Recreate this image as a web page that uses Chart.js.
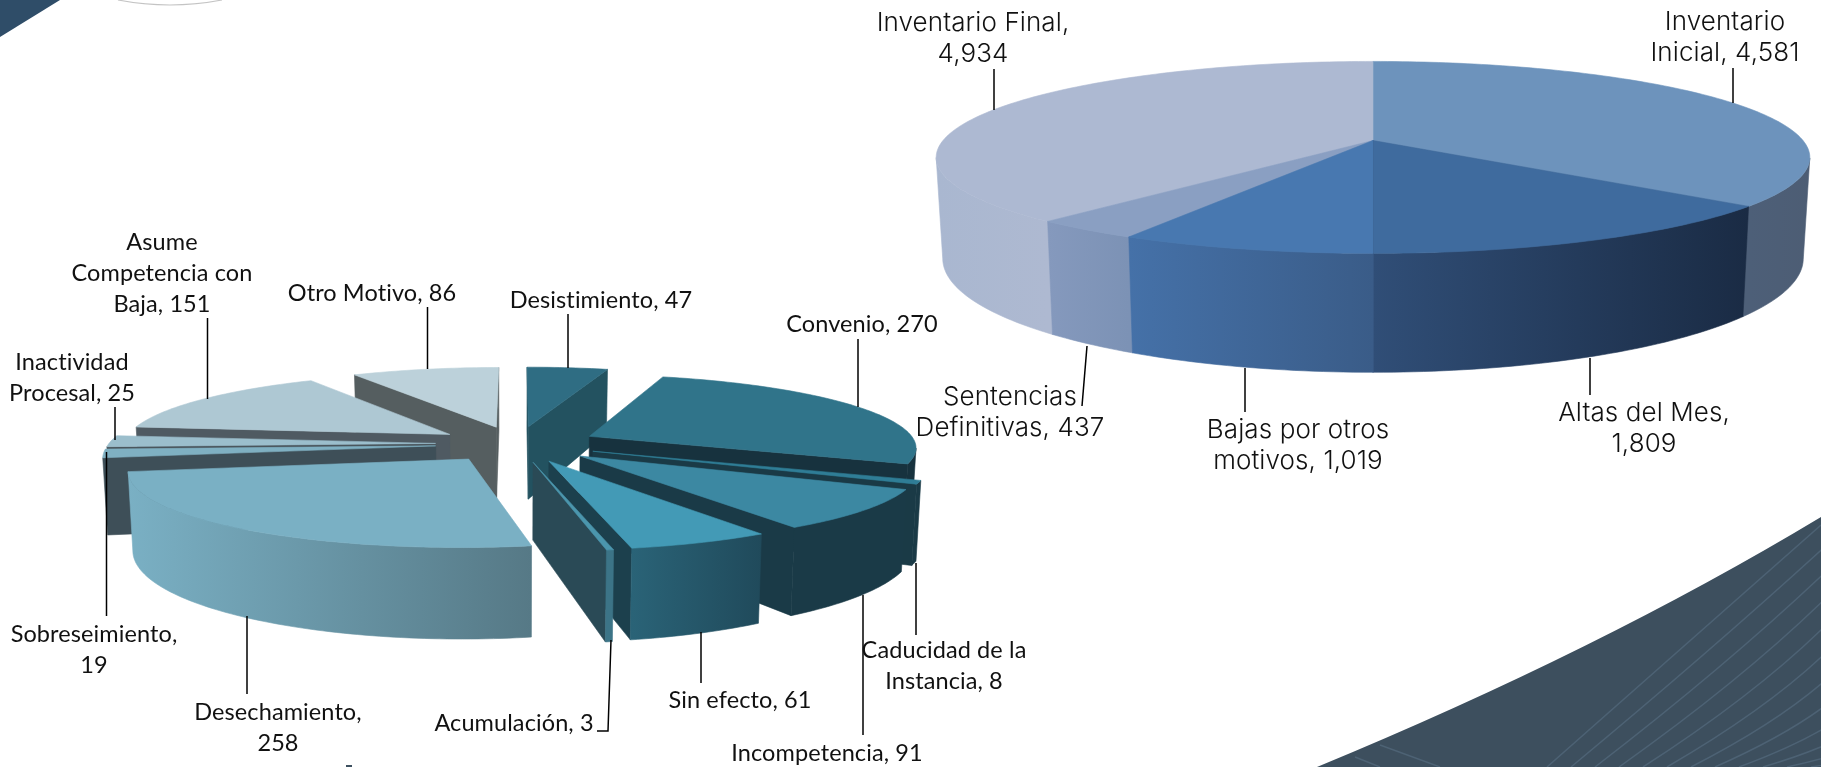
<!DOCTYPE html>
<html>
<head>
<meta charset="utf-8">
<title>Inventario</title>
<script src="https://cdn.jsdelivr.net/npm/chart.js@4"></script>
<style>
  html, body { margin: 0; padding: 0; background: #fff; overflow: hidden; }
  #stage { position: relative; width: 1821px; height: 767px; }
  #stage canvas { position: absolute; left: 0; top: 0; }
</style>
</head>
<body>
<div id="stage">
  <canvas id="bajasChart" width="1821" height="767"></canvas>
  <canvas id="inventarioChart" width="1821" height="767"></canvas>
</div>
<script>
// ==========================================================================
// Data
// ==========================================================================

const inventarioCategories = ["Inventario Inicial", "Altas del Mes", "Bajas por otros motivos", "Sentencias Definitivas", "Inventario Final"];
const inventarioValues = [4581, 1809, 1019, 437, 4934];

const bajasCategories = ["Desistimiento", "Convenio", "Caducidad de la Instancia", "Incompetencia", "Sin efecto", "Acumulación", "Desechamiento", "Sobreseimiento", "Inactividad Procesal", "Asume Competencia con Baja", "Otro Motivo"];
const bajasValues = [47, 270, 8, 91, 61, 3, 258, 19, 25, 151, 86];

// label text, the value gets appended to the last line
const inventarioLines = [["Inventario", "Inicial, "], ["Altas del Mes,", ""], ["Bajas por otros", "motivos, "], ["Sentencias", "Definitivas, "], ["Inventario Final,", ""]];
const bajasLines = [["Desistimiento, "], ["Convenio, "], ["Caducidad de la", "Instancia, "], ["Incompetencia, "], ["Sin efecto, "], ["Acumulación, "], ["Desechamiento,", ""], ["Sobreseimiento,", ""], ["Inactividad", "Procesal, "], ["Asume", "Competencia con", "Baja, "], ["Otro Motivo, "]];

// ==========================================================================
// Styles and layout
// ==========================================================================

const inventarioTop = ["#6d93bc", "#3f6b9e", "#4878b0", "#8a9fc2", "#adb9d2"];
const inventarioRim = [["#4d5f78", "#4d5d74"], ["#304e77", "#1a2b44"], ["#4571a8", "#3a5c88"], ["#8599bd", "#7c92b5"], ["#a9b7d0", "#aeb9d1"]];
const inventarioWall = ["#4d5d74", "#1a2b44", "#3a5c88", "#7c92b5", "#aeb9d1"];

const bajasTop = ["#2f6d83", "#30748a", "#2f7d96", "#3c88a2", "#439ab6", "#4b96ad", "#7ab0c4", "#7fb0c2", "#9bbecc", "#aec8d3", "#bcd1da"];
const bajasRim = [["#235260", "#235260"], ["#17323e", "#17323e"], ["#1a3a46", "#1a3a46"], ["#1a3a47", "#1a3a47"], ["#2a6377", "#204a5b"], ["#3c7487", "#3c7487"], ["#7ab0c4", "#567986"], ["#3e4f58", "#3e4f58"], ["#4a565d", "#4a565d"], ["#4f5a62", "#4f5a62"], ["#555e60", "#555e60"]];
const bajasWall = ["#235260", "#17323e", "#1a3a46", "#1a3a47", "#1c404d", "#2a4a56", "#567986", "#3e4f58", "#4a565d", "#4f5a62", "#555e60"];
const bajasExplode = [85, 85, 85, 85, 85, 85, 85, 85, 85, 85, 85];

const inventarioView = { cx: 1373, cy: 140.5, rx: 430, ry: 93, k: 0.176, kd: 0.176, depth: 98, taper: 0.985 };
const bajasView = { cx: 517, cy: 444, rx: 327, ry: 72, k: 0.135, kd: 0.15, depth: 75, taper: 0.988 };

// [x, y of first line] for each label, in category order
const inventarioLabelPos = [[1725, 22], [1644, 413], [1298, 430], [1010, 397], [973, 23]];
const bajasLabelPos = [[601, 300], [862, 324], [944, 650], [827, 753], [740, 700], [514, 723], [278, 712], [94, 634], [72, 362], [162, 242], [372, 293]];

const inventarioLeaders = [
  [[1733, 68], [1733, 103]],
  [[1590, 358], [1590, 395]],
  [[1245, 368], [1245, 412]],
  [[1087, 346], [1082, 406]],
  [[994, 69], [994, 110]],
];
const bajasLeaders = [
  [[568, 314], [568, 368]],
  [[858, 339], [858, 407]],
  [[916, 563], [916, 635]],
  [[863, 595], [863, 735]],
  [[701, 632], [701, 683]],
  [[611, 640], [608, 731], [597, 731]],
  [[247, 616], [247, 694]],
  [[106.5, 452], [106.5, 616]],
  [[115, 407], [115, 440]],
  [[207.5, 318], [207.5, 399]],
  [[427.5, 307], [427.5, 369]],
];

// ==========================================================================
// 3D pie drawing
// ==========================================================================

function project(view, u, v, down) {
  const d = 1 - view.k * v;
  const t = down ? view.taper : 1;
  return {
    x: view.cx + (view.rx * u * t) / d,
    y: view.cy + (view.ry * v) / d + (down ? view.depth / (1 - view.kd * v) : 0),
  };
}

function sliceOutline(el) {
  const from = el.startAngle + Math.PI / 2;
  const to = el.endAngle + Math.PI / 2;
  const mid = (from + to) / 2;
  const e = el.options.offset / el.outerRadius;
  const au = e * Math.sin(mid);
  const av = -e * Math.cos(mid);
  const steps = Math.max(2, Math.ceil((to - from) / 0.02));
  const rim = [];
  for (let i = 0; i <= steps; i++) {
    const a = from + ((to - from) * i) / steps;
    rim.push({ u: au + Math.sin(a), v: av - Math.cos(a) });
  }
  return { apex: { u: au, v: av }, rim: rim, order: av - Math.cos(mid) };
}

function fillPath(ctx, points, fill) {
  ctx.beginPath();
  points.forEach((p, i) => (i ? ctx.lineTo(p.x, p.y) : ctx.moveTo(p.x, p.y)));
  ctx.closePath();
  ctx.fillStyle = fill;
  ctx.strokeStyle = fill;
  ctx.lineWidth = 0.6;
  ctx.fill();
  ctx.stroke();
}

function drawWall(ctx, view, a, b, color) {
  const top1 = project(view, a.u, a.v, false);
  const top2 = project(view, b.u, b.v, false);
  if (top2.x >= top1.x) return; // faces away from the viewer
  fillPath(ctx, [top1, top2, project(view, b.u, b.v, true), project(view, a.u, a.v, true)], color);
}

function drawRim(ctx, view, rim, colors) {
  let run = [];
  const flush = () => {
    if (run.length < 2) return;
    const tops = run.map((p) => project(view, p.u, p.v, false));
    const lows = run.map((p) => project(view, p.u, p.v, true)).reverse();
    const xs = tops.map((p) => p.x);
    const grad = ctx.createLinearGradient(Math.min(...xs), 0, Math.max(...xs), 0);
    grad.addColorStop(0, colors[0]);
    grad.addColorStop(1, colors[1]);
    fillPath(ctx, tops.concat(lows), grad);
  };
  for (let i = 0; i < rim.length - 1; i++) {
    const x1 = project(view, rim[i].u, rim[i].v, false).x;
    const x2 = project(view, rim[i + 1].u, rim[i + 1].v, false).x;
    if (x2 < x1) {
      if (!run.length) run.push(rim[i]);
      run.push(rim[i + 1]);
    } else {
      flush();
      run = [];
    }
  }
  flush();
}

const pie3d = {
  id: "pie3d",
  beforeDatasetsDraw(chart, args, opts) {
    const ctx = chart.ctx;
    const arcs = chart.getDatasetMeta(0).data.map((el, i) => ({ i: i, s: sliceOutline(el) }));
    arcs.sort((a, b) => a.s.order - b.s.order);
    arcs.forEach(({ i, s }) => {
      const first = s.rim[0];
      const last = s.rim[s.rim.length - 1];
      drawWall(ctx, opts.view, s.apex, first, opts.wall[i]);
      drawWall(ctx, opts.view, last, s.apex, opts.wall[i]);
      drawRim(ctx, opts.view, s.rim, opts.rim[i]);
      const top = [s.apex].concat(s.rim).map((p) => project(opts.view, p.u, p.v, false));
      fillPath(ctx, top, opts.top[i]);
    });
    return false;
  },
  afterDraw(chart, args, opts) {
    const ctx = chart.ctx;
    const values = chart.data.datasets[0].data;
    ctx.save();
    ctx.strokeStyle = "#000";
    ctx.lineWidth = 1.5;
    opts.leaders.forEach((line) => {
      ctx.beginPath();
      line.forEach((p, i) => (i ? ctx.lineTo(p[0], p[1]) : ctx.moveTo(p[0], p[1])));
      ctx.stroke();
    });
    ctx.fillStyle = "#111";
    ctx.font = opts.font;
    ctx.letterSpacing = "0.1px"; // keeps the "ti" pairs from turning into ligatures
    ctx.textAlign = "center";
    ctx.textBaseline = "middle";
    opts.lines.forEach((lines, i) => {
      lines.forEach((text, n) => {
        const str = n === lines.length - 1 ? text + values[i].toLocaleString("en-US") : text;
        ctx.fillText(str, opts.pos[i][0], opts.pos[i][1] + n * opts.lineHeight);
      });
    });
    ctx.restore();
  },
};

// page decoration behind the charts
const pageDecor = {
  id: "pageDecor",
  beforeDraw(chart) {
    const ctx = chart.ctx;
    ctx.save();
    ctx.fillStyle = "#3d4f5e";
    ctx.beginPath();
    ctx.moveTo(1317, 767);
    ctx.quadraticCurveTo(1600, 650, 1821, 517);
    ctx.lineTo(1821, 767);
    ctx.closePath();
    ctx.fill();
    ctx.clip();
    ctx.strokeStyle = "#4d6274";
    ctx.lineWidth = 1.5;
    for (let i = 0; i < 14; i++) {
      ctx.beginPath();
      ctx.moveTo(1547 + i * 24, 767);
      ctx.quadraticCurveTo(1690 + i * 22, 640 + i * 10, 1821 + i * 8, 525 + i * 18);
      ctx.stroke();
    }
    ctx.beginPath();
    ctx.moveTo(1380, 745);
    ctx.lineTo(1440, 767);
    ctx.moveTo(1355, 757);
    ctx.lineTo(1380, 767);
    ctx.stroke();
    ctx.restore();

    ctx.fillStyle = "#2f4d68";
    ctx.beginPath();
    ctx.moveTo(0, 0);
    ctx.lineTo(60, 0);
    ctx.lineTo(0, 37);
    ctx.closePath();
    ctx.fill();

    ctx.fillStyle = "#3d5060";
    ctx.fillRect(346, 765, 6, 2);

    ctx.strokeStyle = "#c4c4c4";
    ctx.lineWidth = 1.2;
    ctx.beginPath();
    ctx.moveTo(118, 0);
    ctx.quadraticCurveTo(170, 10, 222, 0);
    ctx.stroke();
  },
};

// ==========================================================================
// Charts
// ==========================================================================

function makePie(id, labels, values, offset, plugins, settings) {
  return new Chart(document.getElementById(id), {
    type: "pie",
    data: {
      labels: labels,
      datasets: [{ data: values, backgroundColor: settings.top, offset: offset, borderWidth: 0 }],
    },
    options: {
      responsive: false,
      animation: false,
      events: [],
      plugins: {
        legend: { display: false },
        tooltip: { enabled: false },
        pie3d: settings,
      },
    },
    plugins: plugins,
  });
}

makePie("bajasChart", bajasCategories, bajasValues, bajasExplode, [pageDecor, pie3d], {
  view: bajasView,
  top: bajasTop,
  rim: bajasRim,
  wall: bajasWall,
  lines: bajasLines,
  pos: bajasLabelPos,
  leaders: bajasLeaders,
  font: '23.5px "Lato"',
  lineHeight: 31,
});

makePie("inventarioChart", inventarioCategories, inventarioValues, 0, [pie3d], {
  view: inventarioView,
  top: inventarioTop,
  rim: inventarioRim,
  wall: inventarioWall,
  lines: inventarioLines,
  pos: inventarioLabelPos,
  leaders: inventarioLeaders,
  font: '300 26px "Inter"',
  lineHeight: 31,
});
</script>
</body>
</html>
